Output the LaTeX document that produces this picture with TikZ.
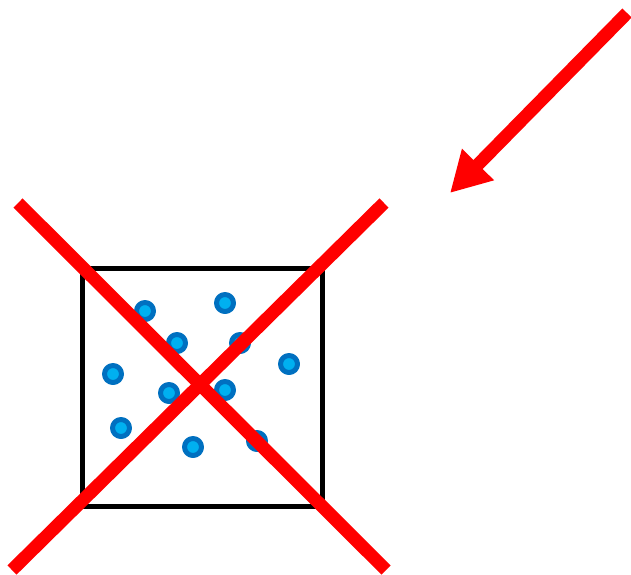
\documentclass[tikz,border=0pt]{standalone}
\usetikzlibrary{arrows.meta}
\definecolor{dotedge}{RGB}{0,112,192}
\definecolor{dotfill}{RGB}{0,176,240}
\tikzset{
	grain/.style={draw=dotedge,fill=dotfill,line width=5pt},
	cross/.style={draw=red,line width=13pt},
}
\begin{document}
\begin{tikzpicture}[line join=round,x=1pt,y=-1pt]
				\useasboundingbox (0,0) rectangle (631,574);
				\draw [line width=5pt] (82,268) rectangle (322,506);
				% particles inside the box
				\foreach \px/\py in {145/311,225/303,177/343,240/343,289/364,113/374,169/393,225/390,121/428,193/447,257/441}
					\draw [grain] (\px,\py) circle (8.5pt);
				\draw [cross] (18,203)-- (386,570);
				\draw [cross] (12,570)-- (384,203);
				\draw [cross,-{Triangle[length=40pt,width=42pt]}] (627,13) -- (450,193);
			\end{tikzpicture}
\end{document}
